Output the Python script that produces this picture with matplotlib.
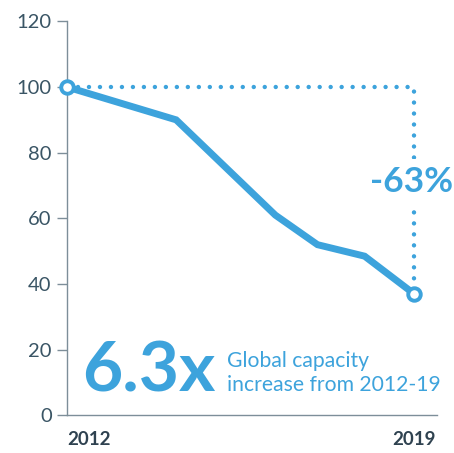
import matplotlib
matplotlib.use("Agg")
import matplotlib.pyplot as plt

# cost index, 2012 = 100
years = [2012, 2014.2, 2016.2, 2017.05, 2018, 2019]
index = [100, 90, 61, 52, 48.5, 37]
y_ticks = [0, 20, 40, 60, 80, 100, 120]
x_labels = ["2012", "2019"]
drop_label = "-63%"
big_label = "6.3x"
note_label = "Global capacity\nincrease from 2012-19"

BLUE = "#3da3dc"
AXIS = "#7d8e99"
TEXT = "#3a5565"

plt.rcParams["font.family"] = ["Lato", "DejaVu Sans"]
plt.rcParams["lines.scale_dashes"] = False

fig = plt.figure(figsize=(4.54, 4.53), dpi=100)
ax = fig.add_axes([0.1476, 0.0828, 0.815, 0.8702])

ax.set_xlim(years[0], 2019.46)
ax.set_ylim(0, 120)

# dotted guide from the start value across and down to the end value
ax.plot([years[0], years[-1], years[-1]], [index[0], index[0], index[-1]],
        color=BLUE, lw=3.2, dashes=(0.01, 7.9), dash_capstyle="round",
        solid_capstyle="round", zorder=2, clip_on=False)

ax.plot(years, index, color=BLUE, lw=5, solid_joinstyle="miter", zorder=3, clip_on=False)
ax.plot([years[0], years[-1]], [index[0], index[-1]], "o", ms=9, mfc="white",
        mec=BLUE, mew=2.8, zorder=4, clip_on=False)

ax.text(years[-1] - 0.05, 71, drop_label, color=BLUE, fontsize=25.5, fontweight="bold",
        ha="center", va="center", zorder=5,
        bbox=dict(facecolor="white", edgecolor="none", pad=5))

ax.text(2012.3, 7.4, big_label, color=BLUE, fontsize=50, fontweight="bold",
        ha="left", va="baseline")
ax.text(2015.23, 7.4, note_label, color=BLUE, fontsize=15.2, ha="left",
        va="baseline", linespacing=1.25)

for side in ["top", "right"]:
    ax.spines[side].set_visible(False)
for side in ["left", "bottom"]:
    ax.spines[side].set_color(AXIS)
    ax.spines[side].set_linewidth(1.0)

ax.set_yticks(y_ticks)
ax.tick_params(axis="y", length=7, width=1.0, color=AXIS, labelcolor=TEXT,
               labelsize=14.5, pad=4)
ax.set_xticks([years[0], 2019])
ax.set_xticklabels(x_labels, fontweight="bold", fontsize=13.5, color="#2f4250")
ax.tick_params(axis="x", length=0, pad=11)
ax.get_xticklabels()[0].set_horizontalalignment("left")

fig.savefig("out.png", dpi=100)
